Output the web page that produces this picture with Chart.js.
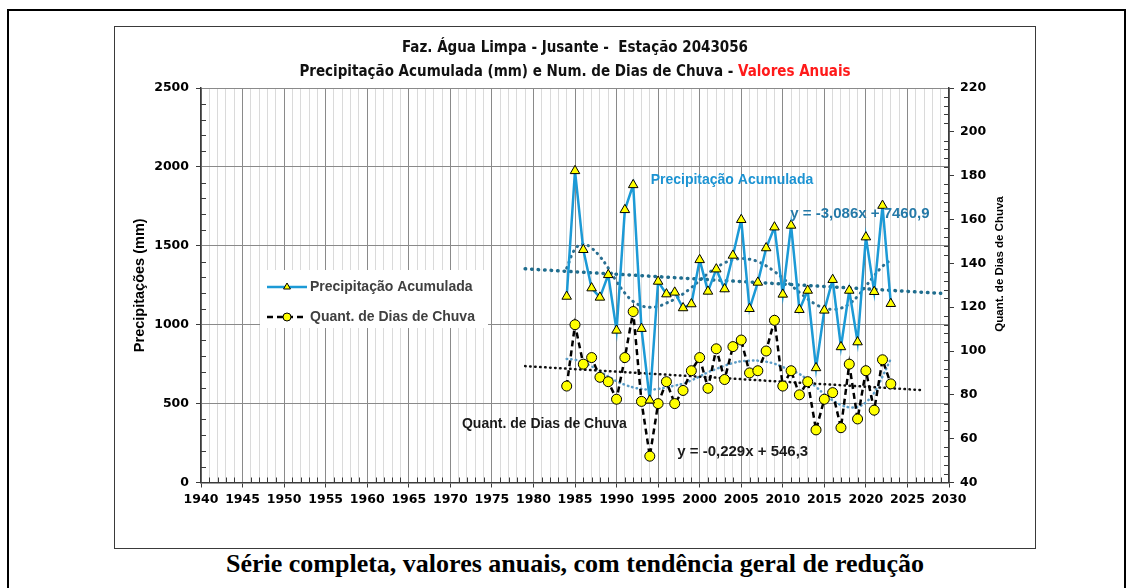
<!DOCTYPE html>
<html lang="pt">
<head>
<meta charset="UTF-8">
<title>Faz. Água Limpa - Jusante - Estação 2043056</title>
<script src="https://cdn.jsdelivr.net/npm/chart.js"></script>
<style>
  body { margin: 0; width: 1132px; height: 588px; background: #fff; position: relative; overflow: hidden; }
  .frame { position: absolute; left: 7px; top: 9px; width: 1115px; height: 620px; border: 2px solid #000; }
  .box { position: absolute; left: 114px; top: 26px; width: 920px; height: 521px; border: 1px solid #3a3a3a; }
  .chart-wrap { position: absolute; left: 115px; top: 27px; width: 920px; height: 521px; }
  .title { position: absolute; left: 115px; width: 920px; text-align: center; font-family: "Liberation Sans Narrow", "DejaVu Sans Condensed", Roboto, sans-serif; font-stretch: condensed; font-weight: bold; font-size: 15px; color: #111; white-space: pre; line-height: 18px; }
  .t1 { top: 38px; }
  .t2 { top: 62px; }
  .red { color: #ff1a1a; }
  .caption { position: absolute; left: 0; width: 1150px; top: 549px; text-align: center; font-family: "Liberation Serif", "Times New Roman", serif; font-weight: bold; font-size: 26px; color: #000; }
</style>
</head>
<body>
<div class="frame"></div>
<div class="box"></div>
<div class="chart-wrap"><canvas id="chart" width="920" height="521"></canvas></div>
<div class="title t1">Faz. Água Limpa - Jusante -  Estação 2043056</div>
<div class="title t2">Precipitação Acumulada (mm) e Num. de Dias de Chuva - <span class="red">Valores Anuais</span></div>
<div class="caption">Série completa, valores anuais, com tendência geral de redução</div>

<script>
// annual values
const years = [1984, 1985, 1986, 1987, 1988, 1989, 1990, 1991, 1992, 1993,
               1994, 1995, 1996, 1997, 1998, 1999, 2000, 2001, 2002, 2003,
               2004, 2005, 2006, 2007, 2008, 2009, 2010, 2011, 2012, 2013,
               2014, 2015, 2016, 2017, 2018, 2019, 2020, 2021, 2022, 2023];
const precip = [1179, 1975, 1475, 1232, 1173, 1316, 964, 1728, 1886, 975,
                521, 1274, 1194, 1205, 1106, 1131, 1411, 1211, 1352, 1226,
                1439, 1665, 1101, 1268, 1486, 1618, 1192, 1629, 1095, 1217,
                726, 1091, 1285, 859, 1217, 890, 1555, 1209, 1755, 1133];
const rainDays = [84, 112, 94, 97, 88, 86, 78, 97, 118, 77,
                  52, 76, 86, 76, 82, 91, 97, 83, 101, 87,
                  102, 105, 90, 91, 100, 114, 84, 91, 80, 86,
                  64, 78, 81, 65, 94, 69, 91, 73, 96, 85];
// polynomial trend curves (dotted), read at each year
const precipPoly = [1359, 1479, 1512, 1485, 1432, 1359, 1274, 1200, 1147, 1120,
                    1110, 1116, 1137, 1162, 1195, 1235, 1280, 1325, 1362, 1392,
                    1411, 1419, 1415, 1400, 1373, 1337, 1295, 1250, 1205, 1163,
                    1128, 1105, 1097, 1105, 1132, 1180, 1245, 1310, 1370, 1411];
const daysPoly = [96.4, 96.0, 94.8, 93.0, 90.7, 88.4, 86.2, 84.6, 83.4, 82.7,
                  82.4, 82.7, 83.4, 84.2, 85.1, 86.6, 88.4, 90.3, 91.8, 93.3,
                  94.5, 95.3, 95.6, 95.6, 95.1, 94.2, 92.7, 91.2, 89.5, 86.8,
                  83.6, 80.3, 77.5, 75.4, 74.3, 74.5, 76.6, 80.9, 88.4, 96.4];
// linear trends (end points)
const precipTrendYears = [1979, 2029];
const precipTrend = [1354, 1199];
const daysTrendYears = [1979, 2027];
const daysTrend = [93.1, 82.1];

const notes = [
  { text: 'Precipitação Acumulada', x: 1994.1, y: 1914, color: '#1c93d2', size: 14 },
  { text: 'y = -3,086x + 7460,9', x: 2010.9, y: 1703, color: '#2479a8', size: 15 },
  { text: 'Quant. de Dias de Chuva', x: 1971.4, y: 369, color: '#1a1a1a', size: 14 },
  { text: 'y = -0,229x + 546,3', x: 1997.3, y: 193, color: '#1a1a1a', size: 15 }
];

const pts = (xs, ys) => xs.map((v, i) => ({ x: v, y: ys[i] }));
const FONT = '"Liberation Sans", Arial, sans-serif';
const TICK_FONT = '"DejaVu Sans", "Liberation Sans", sans-serif';

// small inner tick marks between the labelled ticks
const minorTicks = {
  id: 'minorTicks',
  beforeDatasetsDraw(chart) {
    const { ctx, chartArea: a, scales: { x, y, y1 } } = chart;
    ctx.save();
    ctx.strokeStyle = '#3a3a3a';
    ctx.lineWidth = 1;
    ctx.beginPath();
    for (let v = x.min; v <= x.max; v++) {
      if (v % 5 === 0) continue;
      const px = Math.round(x.getPixelForValue(v)) + 0.5;
      ctx.moveTo(px, a.bottom);
      ctx.lineTo(px, a.bottom - 5);
    }
    for (let v = y.min; v <= y.max; v += 100) {
      if (v % 500 === 0) continue;
      const py = Math.round(y.getPixelForValue(v)) + 0.5;
      ctx.moveTo(a.left, py);
      ctx.lineTo(a.left + 5, py);
    }
    for (let v = y1.min; v <= y1.max; v += 4) {
      if ((v - y1.min) % 20 === 0) continue;
      const py = Math.round(y1.getPixelForValue(v)) + 0.5;
      ctx.moveTo(a.right - 5, py);
      ctx.lineTo(a.right, py);
    }
    ctx.stroke();
    ctx.restore();
  }
};

// right axis title, reading bottom to top like the left one
const rightTitle = {
  id: 'rightTitle',
  afterDraw(chart) {
    const { ctx, chartArea: a } = chart;
    ctx.save();
    ctx.translate(a.right + 51, a.top + 176);
    ctx.rotate(-Math.PI / 2);
    ctx.font = 'bold 11.5px ' + FONT;
    ctx.fillStyle = '#000';
    ctx.textAlign = 'center';
    ctx.textBaseline = 'middle';
    ctx.fillText('Quant. de Dias de Chuva', 0, 0);
    ctx.restore();
  }
};

// legend box inside the plot
const boxLegend = {
  id: 'boxLegend',
  afterDatasetsDraw(chart) {
    const { ctx, chartArea: a } = chart;
    const left = a.left + 59, top = a.top + 182;
    ctx.save();
    ctx.fillStyle = '#fff';
    ctx.fillRect(left, top, 228, 58);
    chart.data.datasets.filter(d => d.inLegend).forEach((d, i) => {
      const cy = top + 17 + i * 30;
      ctx.strokeStyle = d.borderColor;
      ctx.lineWidth = d.borderWidth;
      ctx.setLineDash(d.borderDash || []);
      ctx.beginPath();
      ctx.moveTo(left + 7, cy);
      ctx.lineTo(left + 47, cy);
      ctx.stroke();
      ctx.setLineDash([]);
      ctx.fillStyle = d.pointBackgroundColor;
      ctx.strokeStyle = d.pointBorderColor;
      ctx.lineWidth = 1;
      Chart.helpers.drawPoint(ctx, { pointStyle: d.pointStyle, radius: 4, rotation: 0, borderWidth: 1 }, left + 27, cy);
      ctx.fillStyle = '#404040';
      ctx.font = 'bold 14px ' + FONT;
      ctx.textBaseline = 'middle';
      ctx.fillText(d.label, left + 50, cy);
    });
    ctx.restore();
  }
};

// free text labels placed at data coordinates
const noteLabels = {
  id: 'noteLabels',
  afterDatasetsDraw(chart) {
    const { ctx, scales: { x, y } } = chart;
    ctx.save();
    ctx.textBaseline = 'middle';
    notes.forEach(n => {
      ctx.font = 'bold ' + n.size + 'px ' + FONT;
      ctx.fillStyle = n.color;
      ctx.fillText(n.text, x.getPixelForValue(n.x), y.getPixelForValue(n.y));
    });
    ctx.restore();
  }
};

const tickFont = { family: TICK_FONT, size: 12.5, weight: 'bold' };

new Chart(document.getElementById('chart'), {
  type: 'line',
  data: {
    datasets: [
      {
        label: 'Precipitação Acumulada', inLegend: true, yAxisID: 'y', order: 0,
        data: pts(years, precip),
        borderColor: '#1c9ad6', borderWidth: 2.5,
        pointStyle: 'triangle', pointRadius: 5.5, pointBackgroundColor: '#ffff00',
        pointBorderColor: '#000', pointBorderWidth: 1
      },
      {
        label: 'Quant. de Dias de Chuva', inLegend: true, yAxisID: 'y1', order: 0,
        data: pts(years, rainDays),
        borderColor: '#000', borderWidth: 2.5, borderDash: [6, 4],
        pointStyle: 'circle', pointRadius: 5, pointBackgroundColor: '#ffff00',
        pointBorderColor: '#000', pointBorderWidth: 1
      },
      {
        label: 'Linear (Precipitação)', yAxisID: 'y', order: 1,
        data: pts(precipTrendYears, precipTrend),
        borderColor: '#1f6d8e', borderWidth: 3.5, borderDash: [0.5, 6], borderCapStyle: 'round',
        pointRadius: 0
      },
      {
        label: 'Polin. (Precipitação)', yAxisID: 'y', order: 1,
        data: pts(years, precipPoly),
        borderColor: '#2a6f92', borderWidth: 3, borderDash: [0.5, 5.5], borderCapStyle: 'round',
        pointRadius: 0, tension: 0.4
      },
      {
        label: 'Linear (Dias)', yAxisID: 'y1', order: 1,
        data: pts(daysTrendYears, daysTrend),
        borderColor: '#111', borderWidth: 2.5, borderDash: [0.5, 4.5], borderCapStyle: 'round',
        pointRadius: 0
      },
      {
        label: 'Polin. (Dias)', yAxisID: 'y1', order: 1,
        data: pts(years, daysPoly),
        borderColor: '#5a9cc6', borderWidth: 2.5, borderDash: [0.5, 4], borderCapStyle: 'round',
        pointRadius: 0, tension: 0.4
      }
    ]
  },
  options: {
    responsive: false,
    animation: false,
    layout: { padding: { top: 61, left: 0, right: 0, bottom: 0 } },
    plugins: { legend: { display: false }, tooltip: { enabled: false } },
    scales: {
      x: {
        type: 'linear', min: 1940, max: 2030,
        afterFit: s => { s.height = 65.5; },
        ticks: {
          stepSize: 1, autoSkip: false, maxRotation: 0, padding: 5, color: '#000', font: tickFont,
          callback: v => (v % 5 === 0 ? String(v) : '')
        },
        grid: {
          color: c => (c.tick && c.tick.value % 5 === 0 ? '#8a8a8a' : '#dadada'),
          tickColor: c => (c.tick && c.tick.value % 5 === 0 ? '#3a3a3a' : 'rgba(0,0,0,0)'),
          tickLength: 5
        },
        border: { color: '#3a3a3a', width: 1.5 }
      },
      y: {
        position: 'left', min: 0, max: 2500,
        afterFit: s => { s.width = 86; },
        ticks: { stepSize: 500, padding: 7, color: '#000', font: tickFont, callback: v => String(v) },
        grid: { color: '#8a8a8a', tickColor: '#3a3a3a', tickLength: 5 },
        border: { color: '#3a3a3a', width: 1.5 },
        title: { display: true, text: 'Precipitações (mm)', color: '#000', font: { family: FONT, size: 14.5, weight: 'bold' }, padding: { top: 16 } }
      },
      y1: {
        position: 'right', min: 40, max: 220,
        afterFit: s => { s.width = 86; },
        ticks: { stepSize: 20, padding: 6, color: '#000', font: tickFont, callback: v => String(v) },
        grid: { drawOnChartArea: false, tickColor: '#3a3a3a', tickLength: 5 },
        border: { color: '#3a3a3a', width: 1.5 }
      }
    }
  },
  plugins: [minorTicks, boxLegend, noteLabels, rightTitle]
});
</script>
</body>
</html>
